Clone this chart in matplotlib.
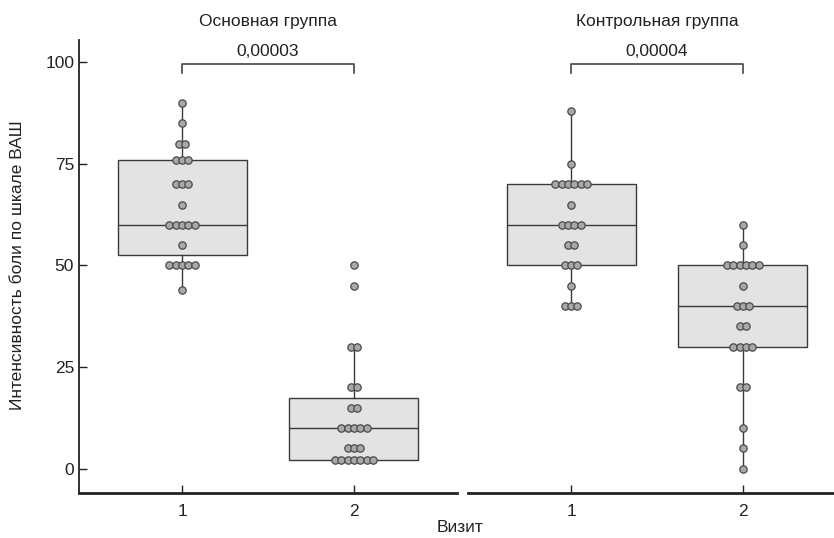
import matplotlib.pyplot as plt
import numpy as np

plt.rcParams['font.family'] = ['Liberation Sans', 'DejaVu Sans']

# Данные: ВАШ по визитам
groups = ['Основная группа', 'Контрольная группа']
p_values = ['0,00003', '0,00004']
visits = [1, 2]

main_v1 = [44] + [50] * 5 + [55] + [60] * 5 + [65] + [70] * 3 + [76] * 3 + [80] * 2 + [85, 90]
main_v2 = [2] * 7 + [5] * 3 + [10] * 5 + [15] * 2 + [20] * 2 + [30] * 2 + [45, 50]
ctrl_v1 = [40] * 3 + [45] + [50] * 3 + [55] * 2 + [60] * 4 + [65] + [70] * 6 + [75, 88]
ctrl_v2 = [0, 5, 10, 20, 20] + [30] * 4 + [35] * 2 + [40] * 3 + [45] + [50] * 6 + [55, 60]

data = [[main_v1, main_v2], [ctrl_v1, ctrl_v2]]

W, H = 834, 538
fig = plt.figure(figsize=(W / 100, H / 100), dpi=100)

# позиции осей в пикселях
ax_l = fig.add_axes([79 / W, (H - 493) / H, (457 - 79) / W, (493 - 40) / H])
ax_r = fig.add_axes([468 / W, (H - 493) / H, (846 - 468) / W, (493 - 40) / H])

box_face = '#e3e3e3'
edge = '#3a3a3a'
pt_face = '#a8a8a8'
spacing = 0.037

for ax, vals, title, p in zip([ax_l, ax_r], data, groups, p_values):
    ax.boxplot(vals, positions=visits, widths=0.75, patch_artist=True,
               showfliers=False, showcaps=False, whis=1.5,
               boxprops=dict(facecolor=box_face, edgecolor=edge, linewidth=1.0),
               medianprops=dict(color=edge, linewidth=1.0),
               whiskerprops=dict(color=edge, linewidth=1.0), zorder=1)
    for pos, v in zip(visits, vals):
        v = np.array(v)
        for u in np.unique(v):
            k = np.sum(v == u)
            xs = pos + (np.arange(k) - (k - 1) / 2) * spacing
            ax.scatter(xs, [u] * k, s=28, facecolor=pt_face, edgecolor='#4a4a4a',
                       linewidth=0.9, zorder=3, clip_on=False)

    ax.set_xlim(0.4, 2.6)
    ax.set_ylim(-6, 105.5)
    ax.set_xticks(visits)
    ax.set_xticklabels([str(v) for v in visits], fontsize=12.5)
    ax.tick_params(axis='x', direction='in', length=6, width=1, pad=8, colors='#222222')
    for s in ['top', 'right']:
        ax.spines[s].set_visible(False)
    ax.spines['bottom'].set_linewidth(2)
    ax.spines['bottom'].set_color('#222222')

    # скобка с p-значением
    ax.plot([1, 1, 2, 2], [97.5, 99.5, 99.5, 97.5], color='#444444', lw=1.2, clip_on=False)
    ax.text(1.5, 100.8, p, ha='center', va='bottom', fontsize=12.5, color='#222222')
    ax.text(1.5, 108.3, title, ha='center', va='bottom', fontsize=12.5, color='#222222')

ax_l.set_yticks([0, 25, 50, 75, 100])
ax_l.tick_params(axis='y', direction='in', length=6, width=1, labelsize=12.5, colors='#222222')
ax_l.spines['left'].set_linewidth(1.3)
ax_l.spines['left'].set_color('#222222')
ax_r.spines['left'].set_visible(False)
ax_r.set_yticks([])

fig.text(18 / W, 1 - 265 / H, 'Интенсивность боли по шкале ВАШ', rotation=90,
         ha='center', va='center', fontsize=12.5, color='#222222')
fig.text(460 / W, 1 - 527 / H, 'Визит', ha='center', va='center', fontsize=12.5, color='#222222')

fig.savefig('out.png', dpi=100)
